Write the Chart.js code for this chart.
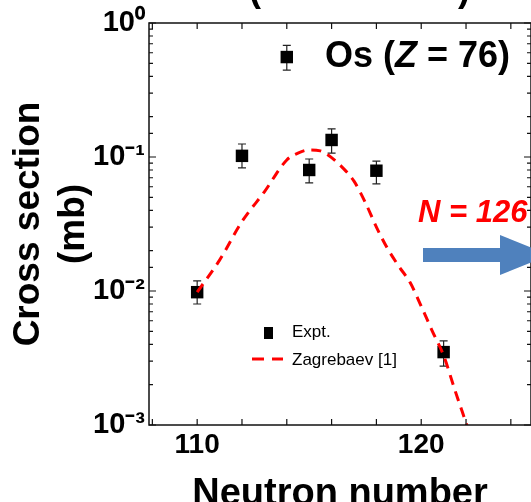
<!DOCTYPE html>
<html>
<head>
<meta charset="utf-8">
<script src="https://cdn.jsdelivr.net/npm/chart.js@4"></script>
<style>
  body { margin: 0; background: #fff; }
  #wrap { position: relative; width: 531px; height: 502px; overflow: hidden; font-family: 'Liberation Sans', Arial, sans-serif; }
  #wrap canvas { position: absolute; left: 0; top: 0; }
  .txt { position: absolute; white-space: nowrap; line-height: 1; }
</style>
</head>
<body>
<div id="wrap">
  <canvas id="chart" width="531" height="502"></canvas>
  <svg width="531" height="502" style="position:absolute;left:0;top:0">
    <polygon points="423,248 500,248 500,235 550,255 500,275 500,262 423,262" fill="#4f81bd"/>
    <line x1="252" y1="359" x2="264" y2="359" stroke="#ff0000" stroke-width="3"/>
    <line x1="272" y1="359" x2="283" y2="359" stroke="#ff0000" stroke-width="3"/>
    <rect x="264" y="327" width="9" height="12" fill="#000"/>
  </svg>
  <div class="txt" style="left:249px;top:-29px;font-size:36px;font-weight:bold">(</div>
  <div class="txt" style="left:458px;top:-29px;font-size:36px;font-weight:bold">)</div>
  <div class="txt" style="left:325px;top:37px;font-size:36px;font-weight:bold">Os (<i>Z</i> = 76)</div>
  <div class="txt" style="left:418px;top:196px;font-size:31px;font-weight:bold;font-style:italic;color:#ff0000">N = 126</div>
  <div class="txt" style="left:292px;top:323px;font-size:17px">Expt.</div>
  <div class="txt" style="left:292px;top:351px;font-size:17px">Zagrebaev [1]</div>
</div>
<script>
// Experimental points (neutron number, cross section in mb, error limits)
const expN = [110, 112, 114, 115, 116, 118, 121];
const expSigma = [0.0098, 0.102, 0.557, 0.080, 0.134, 0.079, 0.0035];
const expErrLo = [0.0080, 0.083, 0.445, 0.064, 0.107, 0.063, 0.00275];
const expErrHi = [0.0119, 0.125, 0.68, 0.0966, 0.162, 0.093, 0.00424];

// Zagrebaev calculation
const thN = [110, 111, 112, 113, 114, 114.5, 115, 115.5, 116, 116.5, 117, 117.5, 118, 118.5, 119, 119.5, 120, 120.5, 121, 121.5, 122, 122.5];
const thSigma = [0.0098, 0.017, 0.033, 0.055, 0.095, 0.107, 0.113, 0.111, 0.099, 0.083, 0.066, 0.046, 0.030, 0.0207, 0.0153, 0.0116, 0.0077, 0.0050, 0.0033, 0.00183, 0.00104, 0.00059];

// Axis tick labels
const xLabelTicks = [110, 120];
const supMap = { '-': '\u207B', '0': '\u2070', '1': '\u00B9', '2': '\u00B2', '3': '\u00B3' };

const FONT = "'Liberation Sans', Arial, sans-serif";

function isDecade(v) {
  const l = Math.log10(v);
  return Math.abs(l - Math.round(l)) < 1e-6;
}

// Error bars, drawn under the markers
const errorBars = {
  id: 'errorBars',
  beforeDatasetsDraw(chart) {
    const { ctx, scales: { x, y } } = chart;
    ctx.save();
    ctx.strokeStyle = '#222';
    ctx.lineWidth = 1.2;
    expN.forEach((n, i) => {
      const px = x.getPixelForValue(n);
      const top = y.getPixelForValue(expErrHi[i]);
      const bot = y.getPixelForValue(expErrLo[i]);
      ctx.beginPath();
      ctx.moveTo(px, top); ctx.lineTo(px, bot);
      ctx.moveTo(px - 4, top); ctx.lineTo(px + 4, top);
      ctx.moveTo(px - 4, bot); ctx.lineTo(px + 4, bot);
      ctx.stroke();
    });
    ctx.restore();
  }
};

// Box frame with inward ticks
const frameTicks = {
  id: 'frameTicks',
  afterDatasetsDraw(chart) {
    const { ctx, chartArea: a, scales: { x, y } } = chart;
    ctx.save();
    ctx.strokeStyle = '#111';
    ctx.lineWidth = 1.5;
    ctx.strokeRect(a.left, a.top, a.right - a.left, a.bottom - a.top);
    ctx.lineWidth = 1.2;
    ctx.beginPath();
    x.ticks.forEach(t => {
      const px = x.getPixelForValue(t.value);
      ctx.moveTo(px, a.bottom); ctx.lineTo(px, a.bottom - 6);
      ctx.moveTo(px, a.top); ctx.lineTo(px, a.top + 6);
    });
    y.ticks.forEach(t => {
      const py = y.getPixelForValue(t.value);
      const len = isDecade(t.value) ? 7 : 4;
      ctx.moveTo(a.left, py); ctx.lineTo(a.left + len, py);
      ctx.moveTo(a.right, py); ctx.lineTo(a.right - len, py);
    });
    ctx.stroke();
    ctx.restore();
  }
};

const ctx = document.getElementById('chart').getContext('2d');

new Chart(ctx, {
  type: 'scatter',
  data: {
    datasets: [
      {
        label: 'Zagrebaev [1]',
        data: thN.map((n, i) => ({ x: n, y: thSigma[i] })),
        showLine: true,
        borderColor: '#ff0000',
        borderWidth: 3,
        borderDash: [10, 7],
        pointRadius: 0,
        cubicInterpolationMode: 'monotone',
        order: 0
      },
      {
        label: 'Expt.',
        data: expN.map((n, i) => ({ x: n, y: expSigma[i] })),
        pointStyle: 'rect',
        pointRadius: 8.8,
        backgroundColor: '#000',
        borderColor: '#000',
        borderWidth: 0,
        order: 1
      }
    ]
  },
  options: {
    responsive: false,
    animation: false,
    devicePixelRatio: 1,
    layout: { autoPadding: false, padding: { top: 23, left: 0, right: 0, bottom: 0 } },
    plugins: {
      legend: { display: false },
      tooltip: { enabled: false }
    },
    scales: {
      x: {
        type: 'linear',
        min: 107.85,
        max: 124.9,
        afterFit: s => { s.height = 77; s.paddingLeft = 0; s.paddingRight = 0; },
        grid: { display: false, drawTicks: false },
        border: { display: false },
        ticks: {
          stepSize: 2,
          includeBounds: false,
          autoSkip: false,
          maxRotation: 0,
          padding: 3,
          color: '#000',
          font: { family: FONT, size: 28, weight: 'bold' },
          callback: v => xLabelTicks.includes(v) ? String(v) : ''
        },
        title: {
          display: true,
          text: 'Neutron number',
          color: '#000',
          font: { family: FONT, size: 38, weight: 'bold', lineHeight: 0.8 },
          padding: { top: 0, bottom: -8 }
        }
      },
      y: {
        type: 'logarithmic',
        min: 0.001,
        max: 1,
        afterFit: s => { s.width = 149; },
        grid: { display: false, drawTicks: false },
        border: { display: false },
        ticks: {
          autoSkip: false,
          padding: 4,
          color: '#000',
          font: { family: FONT, size: 29, weight: 'bold' },
          callback: v => {
            if (!isDecade(v)) return '';
            const e = String(Math.round(Math.log10(v)));
            return '10' + e.split('').map(c => supMap[c]).join('');
          }
        },
        title: {
          display: true,
          text: ['Cross section', '(mb)'],
          color: '#000',
          font: { family: FONT, size: 37, weight: 'bold', lineHeight: 1.2 },
          padding: { top: 7, bottom: 0 }
        }
      }
    }
  },
  plugins: [errorBars, frameTicks]
});
</script>
</body>
</html>
